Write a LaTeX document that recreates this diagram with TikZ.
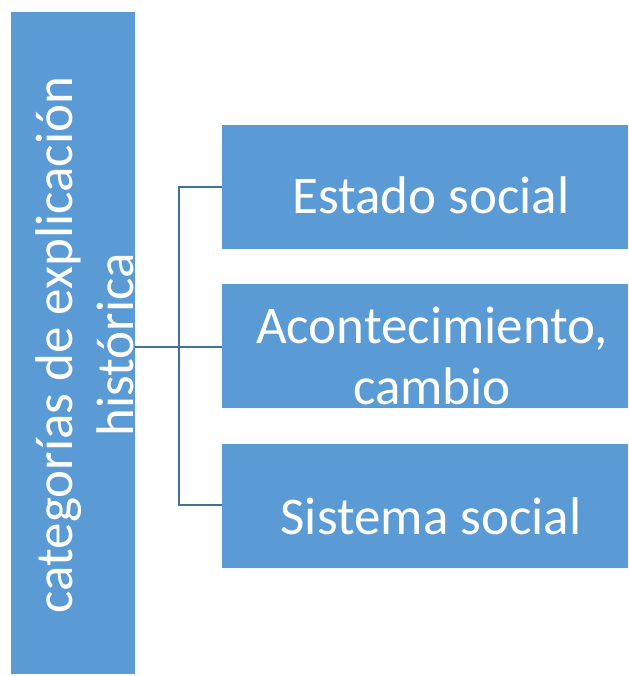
\documentclass[tikz,border=0pt]{standalone}
\usepackage{fontspec}
\setmainfont{Carlito}
\definecolor{boxblue}{HTML}{5B9BD5}
\definecolor{lineblue}{HTML}{41719C}
\tikzset{
  catbox/.style={fill=boxblue, draw=none, inner sep=0pt},
  boxtext/.style={text=white, font=\fontsize{53}{61}\selectfont, align=center, inner sep=0pt},
  conn/.style={draw=lineblue, line width=2pt}
}
\begin{document}
\begin{tikzpicture}[x=1pt,y=-1pt]
\useasboundingbox (0,0) rectangle (628,676);
% boxes
\node[catbox, minimum width=124pt, minimum height=662pt] (left) at (73,343) {};
\node[catbox, minimum width=406pt, minimum height=124pt] (b1) at (425,187) {};
\node[catbox, minimum width=406pt, minimum height=124pt] (b2) at (425,346) {};
\node[catbox, minimum width=406pt, minimum height=124pt] (b3) at (425,506) {};
% texts
\node[boxtext, rotate=90] (lt) at (85,345) {categorías de explicación\\histórica};
\node[boxtext] (t1) at (431,195) {Estado social};
\node[boxtext] (t2) at (432,356) {Acontecimiento,\\cambio};
\node[boxtext] (t3) at (431,516) {Sistema social};
% connectors
\coordinate (j) at (179,347);
\draw[conn] (left.east |- j) -- (b2.west |- j);
\draw[conn] (179,186) -- (179,506);
\draw[conn] (178,187) -- (b1.west |- 0,187);
\draw[conn] (178,505) -- (b3.west |- 0,505);
\end{tikzpicture}
\end{document}
